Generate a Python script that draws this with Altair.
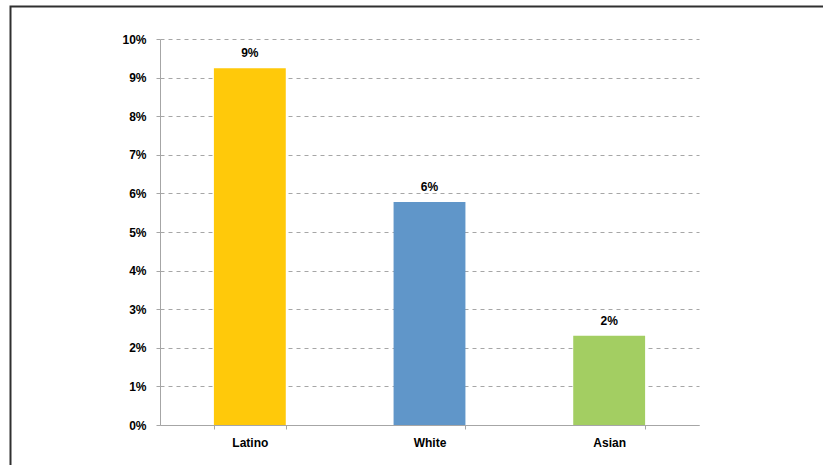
import altair as alt
import pandas as pd

categories = ["Latino", "White", "Asian"]
values = [0.0924, 0.0578, 0.0231]
colors = ["#FFC90A", "#6096C9", "#A3CE62"]
y_ticks = [0.0, 0.01, 0.02, 0.03, 0.04, 0.05, 0.06, 0.07, 0.08, 0.09, 0.10]

df = pd.DataFrame({"group": categories, "value": values, "color": colors})

FONT = "Liberation Sans"

x = alt.X("group:N", sort=categories, title=None,
          scale=alt.Scale(paddingInner=0.6, paddingOuter=0.3),
          axis=alt.Axis(labelAngle=0, labelFont=FONT, labelFontSize=12, labelFontWeight="bold",
                        labelColor="#000000", domainColor="#a6a6a6", tickColor="#a6a6a6",
                        tickSize=4, tickBand="extent", labelPadding=8, grid=False))
y = alt.Y("value:Q", title=None,
          scale=alt.Scale(domain=[0, 0.1], nice=False),
          axis=alt.Axis(format=".0%", values=y_ticks, tickCount=11,
                        labelOverlap=False,
                        labelFont=FONT, labelFontSize=12, labelFontWeight="bold",
                        labelColor="#000000", domainColor="#a6a6a6", tickColor="#a6a6a6",
                        tickSize=4, labelPadding=10, grid=True, gridColor="#a6a6a6",
                        gridDash=[4, 4], gridWidth=1))

base = alt.Chart(df).encode(x=x, y=y)

bars = base.mark_bar().encode(color=alt.Color("color:N", scale=None))
labels = base.mark_text(
    font=FONT, fontSize=12, fontWeight="bold", baseline="bottom", dy=-8, color="#000000"
).encode(text=alt.Text("value:Q", format=".0%"))

border = alt.Chart(pd.DataFrame({"a": [0]})).mark_rect(
    fill=None, fillOpacity=0, stroke="#303030", strokeWidth=2
).encode(x=alt.value(-149.5), x2=alt.value(720), y=alt.value(-32.5), y2=alt.value(480))

chart = alt.layer(bars, labels, border).properties(
    width=539, height=386,
    autosize=alt.AutoSizeParams(type="none"),
    padding={"left": 160, "top": 39, "right": 124, "bottom": 40},
).configure_view(stroke=None)

chart.save("out.html", embed_options={"renderer": "svg", "actions": False})
